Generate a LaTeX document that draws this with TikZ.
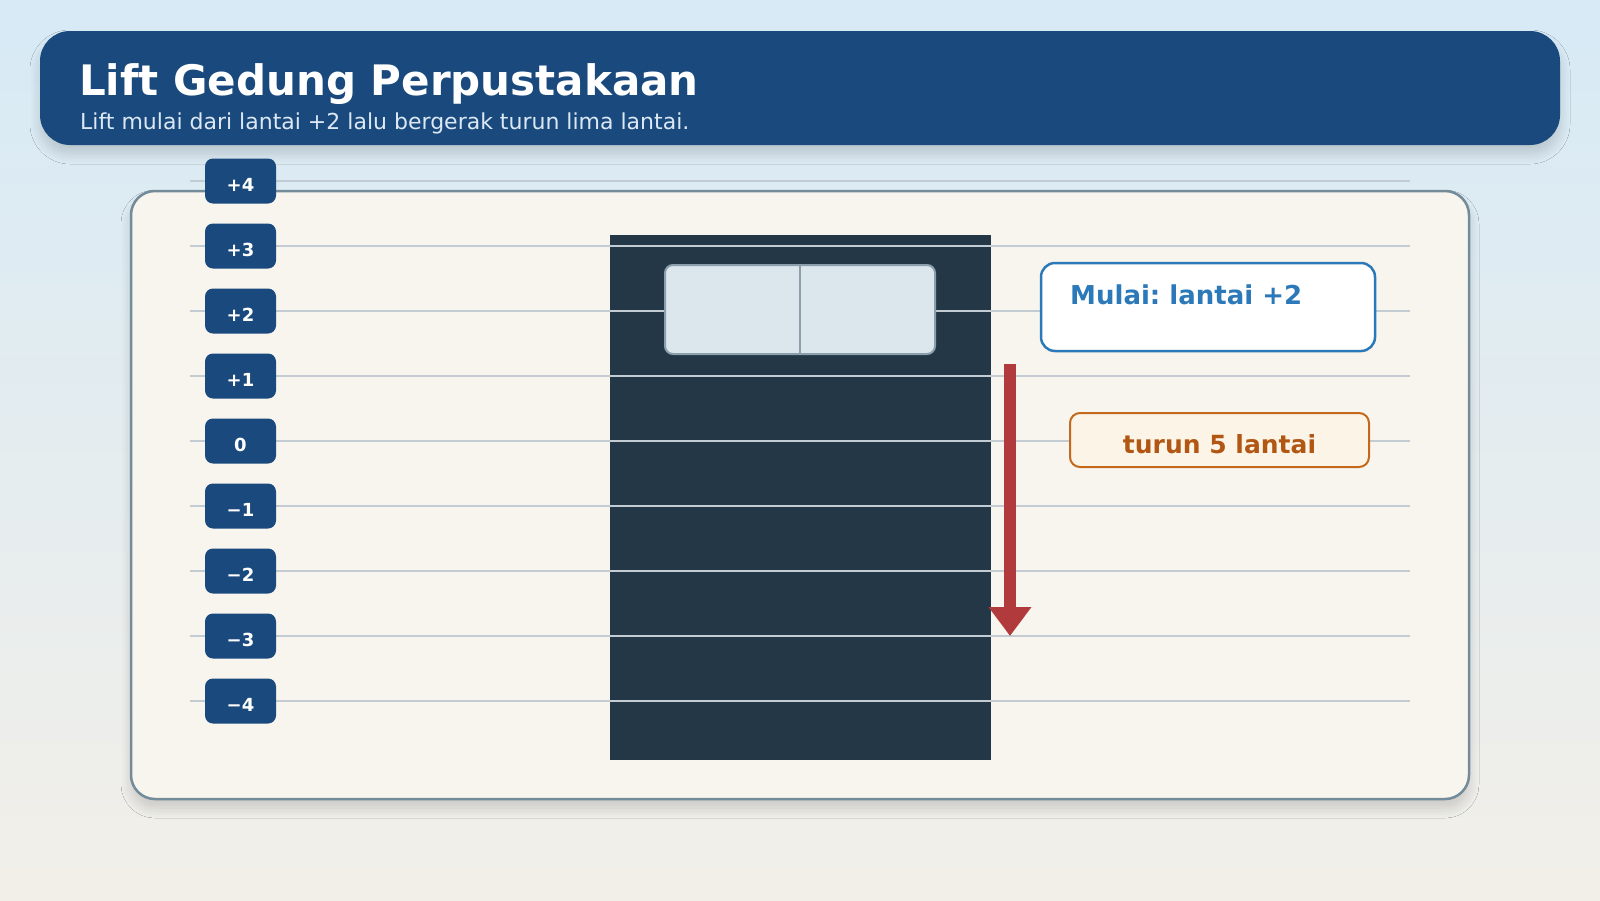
\documentclass[tikz,border=0pt]{standalone}
\usepackage{fontspec}
\setmainfont{DejaVu Sans}
\usetikzlibrary{arrows.meta,shadows.blur}
\frenchspacing

\definecolor{bgtop}{HTML}{D7EAF6}
\definecolor{bgbot}{HTML}{F2EFE8}
\definecolor{navy}{HTML}{1A4A7D}
\definecolor{subtext}{HTML}{DCE8F4}
\definecolor{panelfill}{HTML}{F8F5EE}
\definecolor{panelline}{HTML}{748B9A}
\definecolor{floorline}{HTML}{C3CCD3}
\definecolor{shaftfill}{HTML}{243746}
\definecolor{carfill}{HTML}{DCE7ED}
\definecolor{carline}{HTML}{8C9FAC}
\definecolor{downred}{HTML}{B03A3C}
\definecolor{startblue}{HTML}{2C79B9}
\definecolor{stepline}{HTML}{C4691C}
\definecolor{stepfill}{HTML}{FDF4E8}
\definecolor{steptext}{HTML}{B15713}

\tikzset{
  softshadow/.style={blur shadow={shadow xshift=0pt, shadow yshift=-9pt,
      shadow blur radius=10pt, shadow blur steps=12, shadow opacity=16}},
  floorbadge/.style={fill=navy, rounded corners=8, minimum width=71,
      minimum height=45, inner sep=0pt, text=white, text height=21pt, text depth=0pt,
      font=\bfseries\fontsize{18}{20}\selectfont},
  floorrule/.style={floorline, line width=2},
}

\begin{document}
\begin{tikzpicture}[x=1pt, y=-1pt]
\useasboundingbox (0,0) rectangle (1600,900);
\shade[top color=bgtop, bottom color=bgbot] (0,0) rectangle (1600,900); %background

% header
\fill[navy, rounded corners=30, softshadow] (40,31) rectangle (1560,145);
\node[anchor=base west, inner sep=0pt, text=white,
      font=\bfseries\fontsize{42}{50}\selectfont] (title) at (79,95) {Lift Gedung Perpustakaan};
\node[anchor=base west, inner sep=0pt, text=subtext,
      font=\fontsize{22}{26}\selectfont] (subtitle) at (80,129.5)
      {Lift mulai dari lantai +2 lalu bergerak turun lima lantai.};

% panel
\draw[panelline, fill=panelfill, line width=2.5, rounded corners=24, softshadow]
      (131,191) rectangle (1469,799);

\fill[shaftfill] (610,235) rectangle (991,760); %shaft

% floors
\foreach \k in {4,3,...,-4}
  \draw[floorrule] (190,{441-65*\k}) -- (1410,{441-65*\k});
\foreach \k/\lab in {4/+4,3/+3,2/+2,1/+1,0/0,-1/−1,-2/−2,-3/−3,-4/−4}
  \node[floorbadge] (floor\k) at (240.5,{441-65*\k}) {\lab};

% car
\node[draw=carline, fill=carfill, line width=2, rounded corners=8,
      minimum width=270, minimum height=89, inner sep=0pt] (car) at (800,309.5) {};
\draw[carline, line width=2] (car.north) -- (car.south); %doors

% movement arrow
\coordinate (downtop) at (1010,364);
\coordinate (downtip) at (1010,636);
\draw[downred, line width=11.5, -{Triangle[length=29pt, width=41pt]}] (downtop) -- (downtip);

% notes
\node[draw=startblue, fill=white, line width=2.5, rounded corners=14,
      minimum width=334, minimum height=88, inner sep=0pt] (startbox) at (1208,307) {};
\node[anchor=base west, inner sep=0pt, text=startblue,
      font=\bfseries\fontsize{26}{30}\selectfont] (starttext) at (1070,304) {Mulai: lantai +2};
\node[draw=stepline, fill=stepfill, line width=2, rounded corners=10,
      minimum width=299, minimum height=54, inner sep=0pt, text=steptext,
      text height=26pt, text depth=0pt,
      font=\bfseries\fontsize{25}{28}\selectfont] (stepbox) at (1219.5,440) {turun 5 lantai};
\end{tikzpicture}
\end{document}
